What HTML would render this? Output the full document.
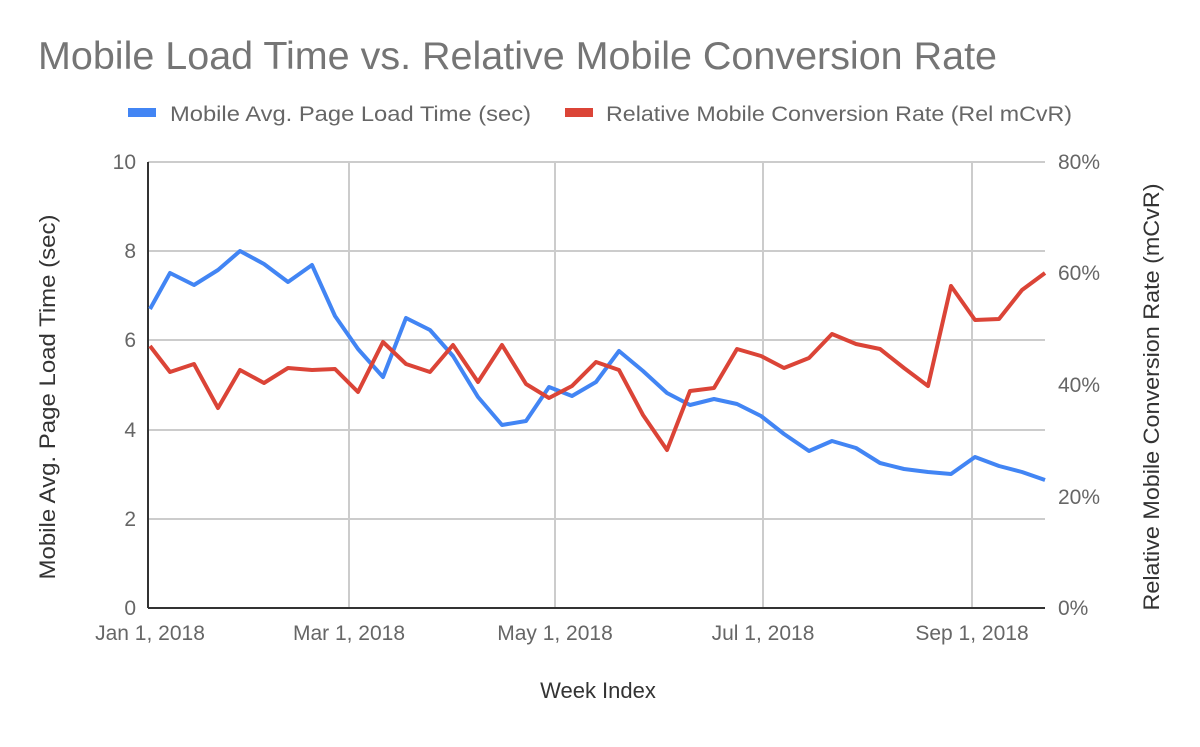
<!DOCTYPE html>
<html><head><meta charset="utf-8"><style>body{margin:0;background:#fff}</style></head><body>
<svg width="1200" height="742" xmlns="http://www.w3.org/2000/svg" font-family="Liberation Sans, sans-serif">
<rect width="1200" height="742" fill="#fff"/>
<text x="38" y="69" font-size="39" fill="#757575" textLength="959" lengthAdjust="spacingAndGlyphs">Mobile Load Time vs. Relative Mobile Conversion Rate</text>
<rect x="128" y="108" width="28" height="9" fill="#4285f4"/>
<text x="170" y="121" font-size="21" fill="#666" textLength="361" lengthAdjust="spacingAndGlyphs">Mobile Avg. Page Load Time (sec)</text>
<rect x="565" y="108" width="28" height="9" fill="#db4437"/>
<text x="606" y="121" font-size="21" fill="#666" textLength="466" lengthAdjust="spacingAndGlyphs">Relative Mobile Conversion Rate (Rel mCvR)</text>
<g stroke="#ccc" stroke-width="2">
<line x1="148" y1="162" x2="1045" y2="162"/><line x1="148" y1="251" x2="1045" y2="251"/><line x1="148" y1="340" x2="1045" y2="340"/><line x1="148" y1="430" x2="1045" y2="430"/><line x1="148" y1="519" x2="1045" y2="519"/>
<line x1="349" y1="162" x2="349" y2="608"/><line x1="555" y1="162" x2="555" y2="608"/><line x1="763" y1="162" x2="763" y2="608"/><line x1="972" y1="162" x2="972" y2="608"/>
</g>
<line x1="148" y1="162" x2="148" y2="608" stroke="#333" stroke-width="2"/>
<line x1="148" y1="608" x2="1045" y2="608" stroke="#333" stroke-width="2"/>
<g font-size="21" fill="#666" text-anchor="end">
<text x="136" y="169">10</text><text x="136" y="258">8</text><text x="136" y="347">6</text><text x="136" y="437">4</text><text x="136" y="526">2</text><text x="136" y="615">0</text>
</g>
<g font-size="21" fill="#666">
<text x="1058" y="169">80%</text><text x="1058" y="280">60%</text><text x="1058" y="392">40%</text><text x="1058" y="504">20%</text><text x="1058" y="615">0%</text>
</g>
<g font-size="21" fill="#666" text-anchor="middle">
<text x="150" y="640">Jan 1, 2018</text><text x="349" y="640">Mar 1, 2018</text><text x="555" y="640">May 1, 2018</text><text x="763" y="640">Jul 1, 2018</text><text x="972" y="640">Sep 1, 2018</text>
</g>
<text x="598" y="698" font-size="22" fill="#333" text-anchor="middle">Week Index</text>
<text transform="translate(55,397) rotate(-90)" font-size="22" fill="#333" text-anchor="middle" textLength="365" lengthAdjust="spacingAndGlyphs">Mobile Avg. Page Load Time (sec)</text>
<text transform="translate(1159,397) rotate(-90)" font-size="22" fill="#333" text-anchor="middle" textLength="427" lengthAdjust="spacingAndGlyphs">Relative Mobile Conversion Rate (mCvR)</text>
<polyline fill="none" stroke="#4285f4" stroke-width="4" stroke-linejoin="round" points="150,309 170,273 194,285 218,270 240,251 264,264 288,282 312,265 335,316 358,349 383,377 406,318 430,330 453,356 478,397 502,425 526,421 549,387 572,396 596,382 619,351 643,371 667,393 690,405 714,399 737,404 761,416 784,434 809,451 832,441 856,448 880,463 904,469 928,472 951,474 975,457 999,466 1022,472 1045,480"/>
<polyline fill="none" stroke="#db4437" stroke-width="4" stroke-linejoin="round" points="150,346 170,372 194,364 218,408 240,370 264,383 288,368 312,370 335,369 358,392 383,342 406,364 430,372 453,345 478,382 502,345 526,384 549,398 572,386 596,362 619,370 643,415 667,450 690,391 714,388 737,349 761,356 784,368 809,358 832,334 856,344 880,349 904,368 928,386 951,286 975,320 999,319 1022,290 1045,273"/>
</svg>
</body></html>
